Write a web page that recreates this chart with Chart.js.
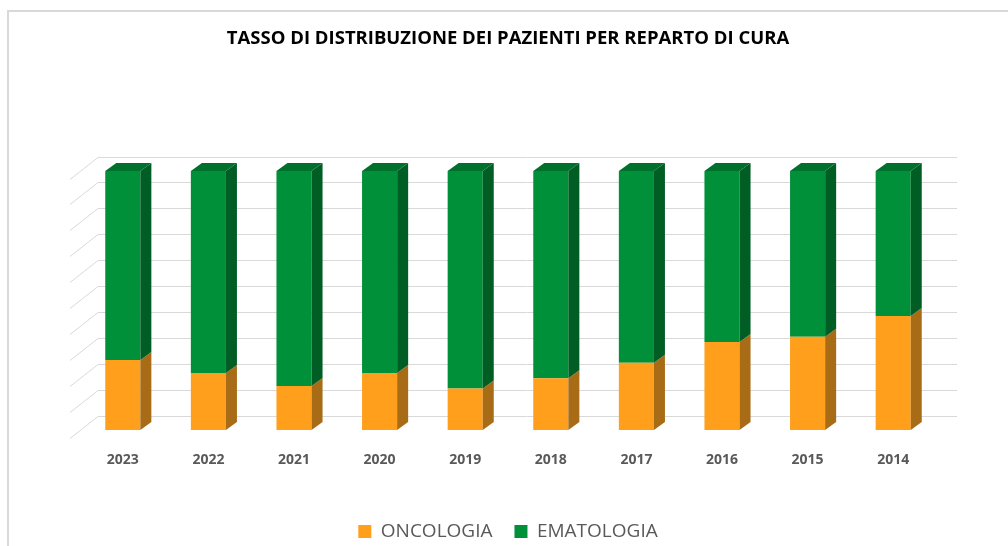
<!DOCTYPE html>
<html>
<head>
<meta charset="utf-8">
<script src="https://cdn.jsdelivr.net/npm/chart.js@4.4.1/dist/chart.umd.min.js"></script>
<style>
  html, body { margin: 0; padding: 0; background: #ffffff; }
  #wrap { position: relative; width: 1008px; height: 546px; }
  canvas { display: block; }
</style>
</head>
<body>
<div id="wrap"><canvas id="c" width="1008" height="546"></canvas></div>
<script>
const categories = ['2023', '2022', '2021', '2020', '2019', '2018', '2017', '2016', '2015', '2014'];
const oncologia  = [27, 22, 17, 22, 16, 20, 26, 34, 36, 44];
const ematologia = [73, 78, 83, 78, 84, 80, 74, 66, 64, 56];
const seriesNames = ['ONCOLOGIA', 'EMATOLOGIA'];
const titleText = 'TASSO DI DISTRIBUZIONE DEI PAZIENTI PER REPARTO DI CURA';

const FRONT = ['#FF9F1C', '#00903A'];
const SIDE  = ['#A86C16', '#005E24'];
const TOP   = ['#C07C1A', '#00712D'];
const DEPTH_X = 11, DEPTH_Y = 8;

const framePlugin = {
  id: 'frame',
  beforeDraw(chart) {
    const ctx = chart.ctx;
    ctx.save();
    ctx.strokeStyle = '#d9d9d9';
    ctx.lineWidth = 2;
    ctx.beginPath();
    ctx.moveTo(8, 546);
    ctx.lineTo(8, 11);
    ctx.lineTo(1008, 11);
    ctx.stroke();
    ctx.restore();
  }
};

const gridPlugin = {
  id: 'grid3d',
  beforeDatasetsDraw(chart) {
    const ctx = chart.ctx;
    const y = chart.scales.y;
    const a = chart.chartArea;
    ctx.save();
    ctx.strokeStyle = '#d9d9d9';
    ctx.lineWidth = 1;
    y.ticks.forEach(t => {
      const yb = Math.round(y.getPixelForValue(t.value) - 14.5) + 0.5;
      ctx.beginPath();
      ctx.moveTo(a.left - 10, yb + 22);
      ctx.lineTo(a.left + 18, yb);
      ctx.lineTo(a.right + 21, yb);
      ctx.stroke();
    });
    ctx.restore();
  }
};

const bar3dPlugin = {
  id: 'bar3d',
  afterDatasetsDraw(chart) {
    const ctx = chart.ctx;
    const last = chart.data.datasets.length - 1;
    ctx.save();
    chart.data.datasets.forEach((ds, di) => {
      const meta = chart.getDatasetMeta(di);
      meta.data.forEach(el => {
        const p = el.getProps(['x', 'y', 'base', 'width'], true);
        const l = p.x - p.width / 2, r = p.x + p.width / 2;
        const top = Math.min(p.y, p.base), bot = Math.max(p.y, p.base);
        ctx.fillStyle = SIDE[di];
        ctx.beginPath();
        ctx.moveTo(r, bot);
        ctx.lineTo(r, top);
        ctx.lineTo(r + DEPTH_X, top - DEPTH_Y);
        ctx.lineTo(r + DEPTH_X, bot - DEPTH_Y);
        ctx.closePath();
        ctx.fill();
        if (di === last) {
          ctx.fillStyle = TOP[di];
          ctx.beginPath();
          ctx.moveTo(l, top);
          ctx.lineTo(l + DEPTH_X, top - DEPTH_Y);
          ctx.lineTo(r + DEPTH_X, top - DEPTH_Y);
          ctx.lineTo(r, top);
          ctx.closePath();
          ctx.fill();
        }
      });
    });
    ctx.restore();
  }
};

new Chart(document.getElementById('c'), {
  type: 'bar',
  data: {
    labels: categories,
    datasets: [
      { label: seriesNames[0], data: oncologia, backgroundColor: FRONT[0], borderWidth: 0, categoryPercentage: 1, barPercentage: 0.41 },
      { label: seriesNames[1], data: ematologia, backgroundColor: FRONT[1], borderWidth: 0, categoryPercentage: 1, barPercentage: 0.41 }
    ]
  },
  options: {
    responsive: false,
    animation: false,
    devicePixelRatio: 1,
    layout: { padding: { left: 80, right: 72, top: 0, bottom: -5 } },
    plugins: {
      title: {
        display: true,
        text: titleText,
        color: '#000000',
        font: { family: 'Open Sans', size: 18.5, weight: 'bold' },
        padding: { top: 28, bottom: 120.8 }
      },
      legend: {
        position: 'bottom',
        labels: {
          color: '#595959',
          font: { family: 'Open Sans', size: 19 },
          boxWidth: 13,
          boxHeight: 13,
          padding: 22
        }
      },
      tooltip: { enabled: false }
    },
    scales: {
      x: {
        stacked: true,
        grid: { display: false, drawTicks: false },
        border: { display: false },
        ticks: { color: '#595959', font: { family: 'Open Sans', size: 14, weight: 'bold' }, padding: 22 },
        afterFit(s) { s.height = 70; }
      },
      y: {
        stacked: true,
        display: false,
        min: 0, max: 100,
        ticks: { stepSize: 10 }
      }
    }
  },
  plugins: [framePlugin, gridPlugin, bar3dPlugin]
});
</script>
</body>
</html>
